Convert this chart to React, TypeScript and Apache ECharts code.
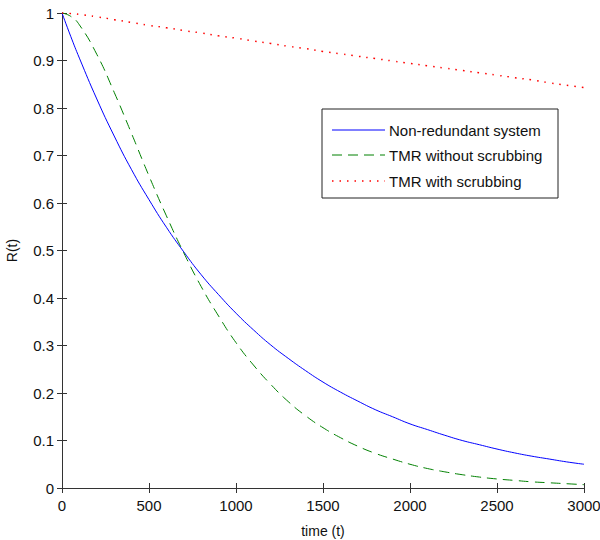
import React, { useEffect, useRef } from "react";
import * as echarts from "echarts";

const times = [0, 50, 100, 200, 300, 400, 500, 600, 700, 800, 900, 1000, 1100, 1200, 1300, 1400, 1500, 1600, 1700, 1800, 1900, 2000, 2100, 2200, 2300, 2400, 2500, 2600, 2700, 2800, 2900, 3000];

const nonRedundant = [1, 0.951, 0.905, 0.819, 0.741, 0.670, 0.607, 0.549, 0.497, 0.449, 0.407, 0.368, 0.333, 0.301, 0.273, 0.247, 0.223, 0.202, 0.183, 0.165, 0.150, 0.135, 0.123, 0.111, 0.100, 0.091, 0.082, 0.074, 0.067, 0.061, 0.055, 0.050];

const tmrNoScrub = [1, 0.993, 0.975, 0.913, 0.833, 0.746, 0.657, 0.573, 0.495, 0.424, 0.362, 0.306, 0.259, 0.218, 0.182, 0.152, 0.127, 0.106, 0.088, 0.073, 0.061, 0.050, 0.041, 0.034, 0.028, 0.023, 0.019, 0.016, 0.013, 0.011, 0.009, 0.007];

const tmrScrub = [1, 0.999, 0.997, 0.992, 0.986, 0.980, 0.974, 0.969, 0.963, 0.958, 0.952, 0.947, 0.941, 0.936, 0.930, 0.925, 0.919, 0.914, 0.909, 0.904, 0.899, 0.894, 0.889, 0.884, 0.879, 0.874, 0.869, 0.864, 0.859, 0.853, 0.848, 0.843];

const seriesNames = ["Non-redundant system", "TMR without scrubbing", "TMR with scrubbing"];
const seriesColors = ["#0000ff", "#008000", "#ff0000"];
const seriesDash: (number[] | null)[] = [null, [10, 6], [1.5, 6]];
const seriesWidth = [1, 1, 1.5];

const FONT = "Liberation Sans, Arial, Helvetica, sans-serif";
const AXIS_COLOR = "#333333";

export default function App() {
  const ref = useRef<HTMLDivElement>(null);
  useEffect(() => {
    if (!ref.current) return;
    const chart = echarts.init(ref.current, undefined, { renderer: "svg" });
    const pair = (ys: number[]) => times.map((t, i) => [t, ys[i]]);
    const axisBase = {
      axisLine: { show: true, lineStyle: { color: AXIS_COLOR, width: 1 } },
      axisTick: { show: true, inside: true, length: 5, lineStyle: { color: AXIS_COLOR } },
      splitLine: { show: false },
    };
    const legendX = 322;
    const legendY = 109;
    const rowYs = [21, 46, 72];
    const legendChildren: any[] = [
      {
        type: "rect",
        shape: { x: 0, y: 0, width: 236, height: 89 },
        style: { fill: "#fff", stroke: "#222", lineWidth: 1 },
      },
    ];
    seriesNames.forEach((n, i) => {
      legendChildren.push({
        type: "line",
        shape: { x1: 10, y1: rowYs[i], x2: 63, y2: rowYs[i] },
        style: {
          stroke: seriesColors[i],
          lineWidth: seriesWidth[i],
          lineDash: seriesDash[i] || undefined,
        },
      });
      legendChildren.push({
        type: "text",
        x: 67,
        y: rowYs[i],
        style: {
          text: n,
          fill: "#111",
          font: `15px ${FONT}`,
          verticalAlign: "middle",
          align: "left",
        },
      });
    });
    chart.setOption({
      animation: false,
      backgroundColor: "#ffffff",
      textStyle: { fontFamily: FONT },
      grid: { left: 62, right: 16, top: 13, bottom: 52, containLabel: false, outerBoundsMode: "none" },
      graphic: [
        {
          type: "group",
          x: legendX,
          y: legendY,
          z: 100,
          children: legendChildren,
        },
      ],
      xAxis: [
        {
          type: "value",
          min: 0,
          max: 3000,
          interval: 500,
          position: "bottom",
          name: "time (t)",
          nameLocation: "middle",
          nameGap: 36,
          nameTextStyle: { fontSize: 14, color: "#111", fontFamily: FONT },
          axisLabel: { fontSize: 15, color: "#111", margin: 10, fontFamily: FONT, formatter: (v: number) => String(v) },
          ...axisBase,
        },
        {
          type: "value",
          min: 0,
          max: 3000,
          interval: 500,
          position: "top",
          axisLabel: { show: false },
          ...axisBase,
        },
      ],
      yAxis: [
        {
          type: "value",
          min: 0,
          max: 1,
          interval: 0.1,
          position: "left",
          name: "R(t)",
          nameLocation: "middle",
          nameGap: 43,
          nameTextStyle: { fontSize: 14, color: "#111", fontFamily: FONT },
          axisLabel: {
            fontSize: 15,
            color: "#111",
            margin: 8,
            fontFamily: FONT,
            formatter: (v: number) => String(Math.round(v * 10) / 10),
          },
          ...axisBase,
        },
        {
          type: "value",
          min: 0,
          max: 1,
          interval: 0.1,
          position: "right",
          axisLabel: { show: false },
          ...axisBase,
        },
      ],
      series: [
        {
          name: seriesNames[0],
          type: "line",
          data: pair(nonRedundant),
          smooth: true,
          symbol: "none",
          lineStyle: { color: seriesColors[0], width: seriesWidth[0], type: "solid" },
          itemStyle: { color: seriesColors[0] },
        },
        {
          name: seriesNames[1],
          type: "line",
          data: pair(tmrNoScrub),
          smooth: true,
          symbol: "none",
          lineStyle: { color: seriesColors[1], width: seriesWidth[1], type: seriesDash[1] },
          itemStyle: { color: seriesColors[1] },
        },
        {
          name: seriesNames[2],
          type: "line",
          data: pair(tmrScrub),
          smooth: true,
          symbol: "none",
          lineStyle: { color: seriesColors[2], width: seriesWidth[2], type: seriesDash[2] },
          itemStyle: { color: seriesColors[2] },
        },
      ],
    });
    return () => chart.dispose();
  }, []);
  return <div ref={ref} style={{ width: 600, height: 540, position: "absolute", left: 0, top: 0 }} />;
}
